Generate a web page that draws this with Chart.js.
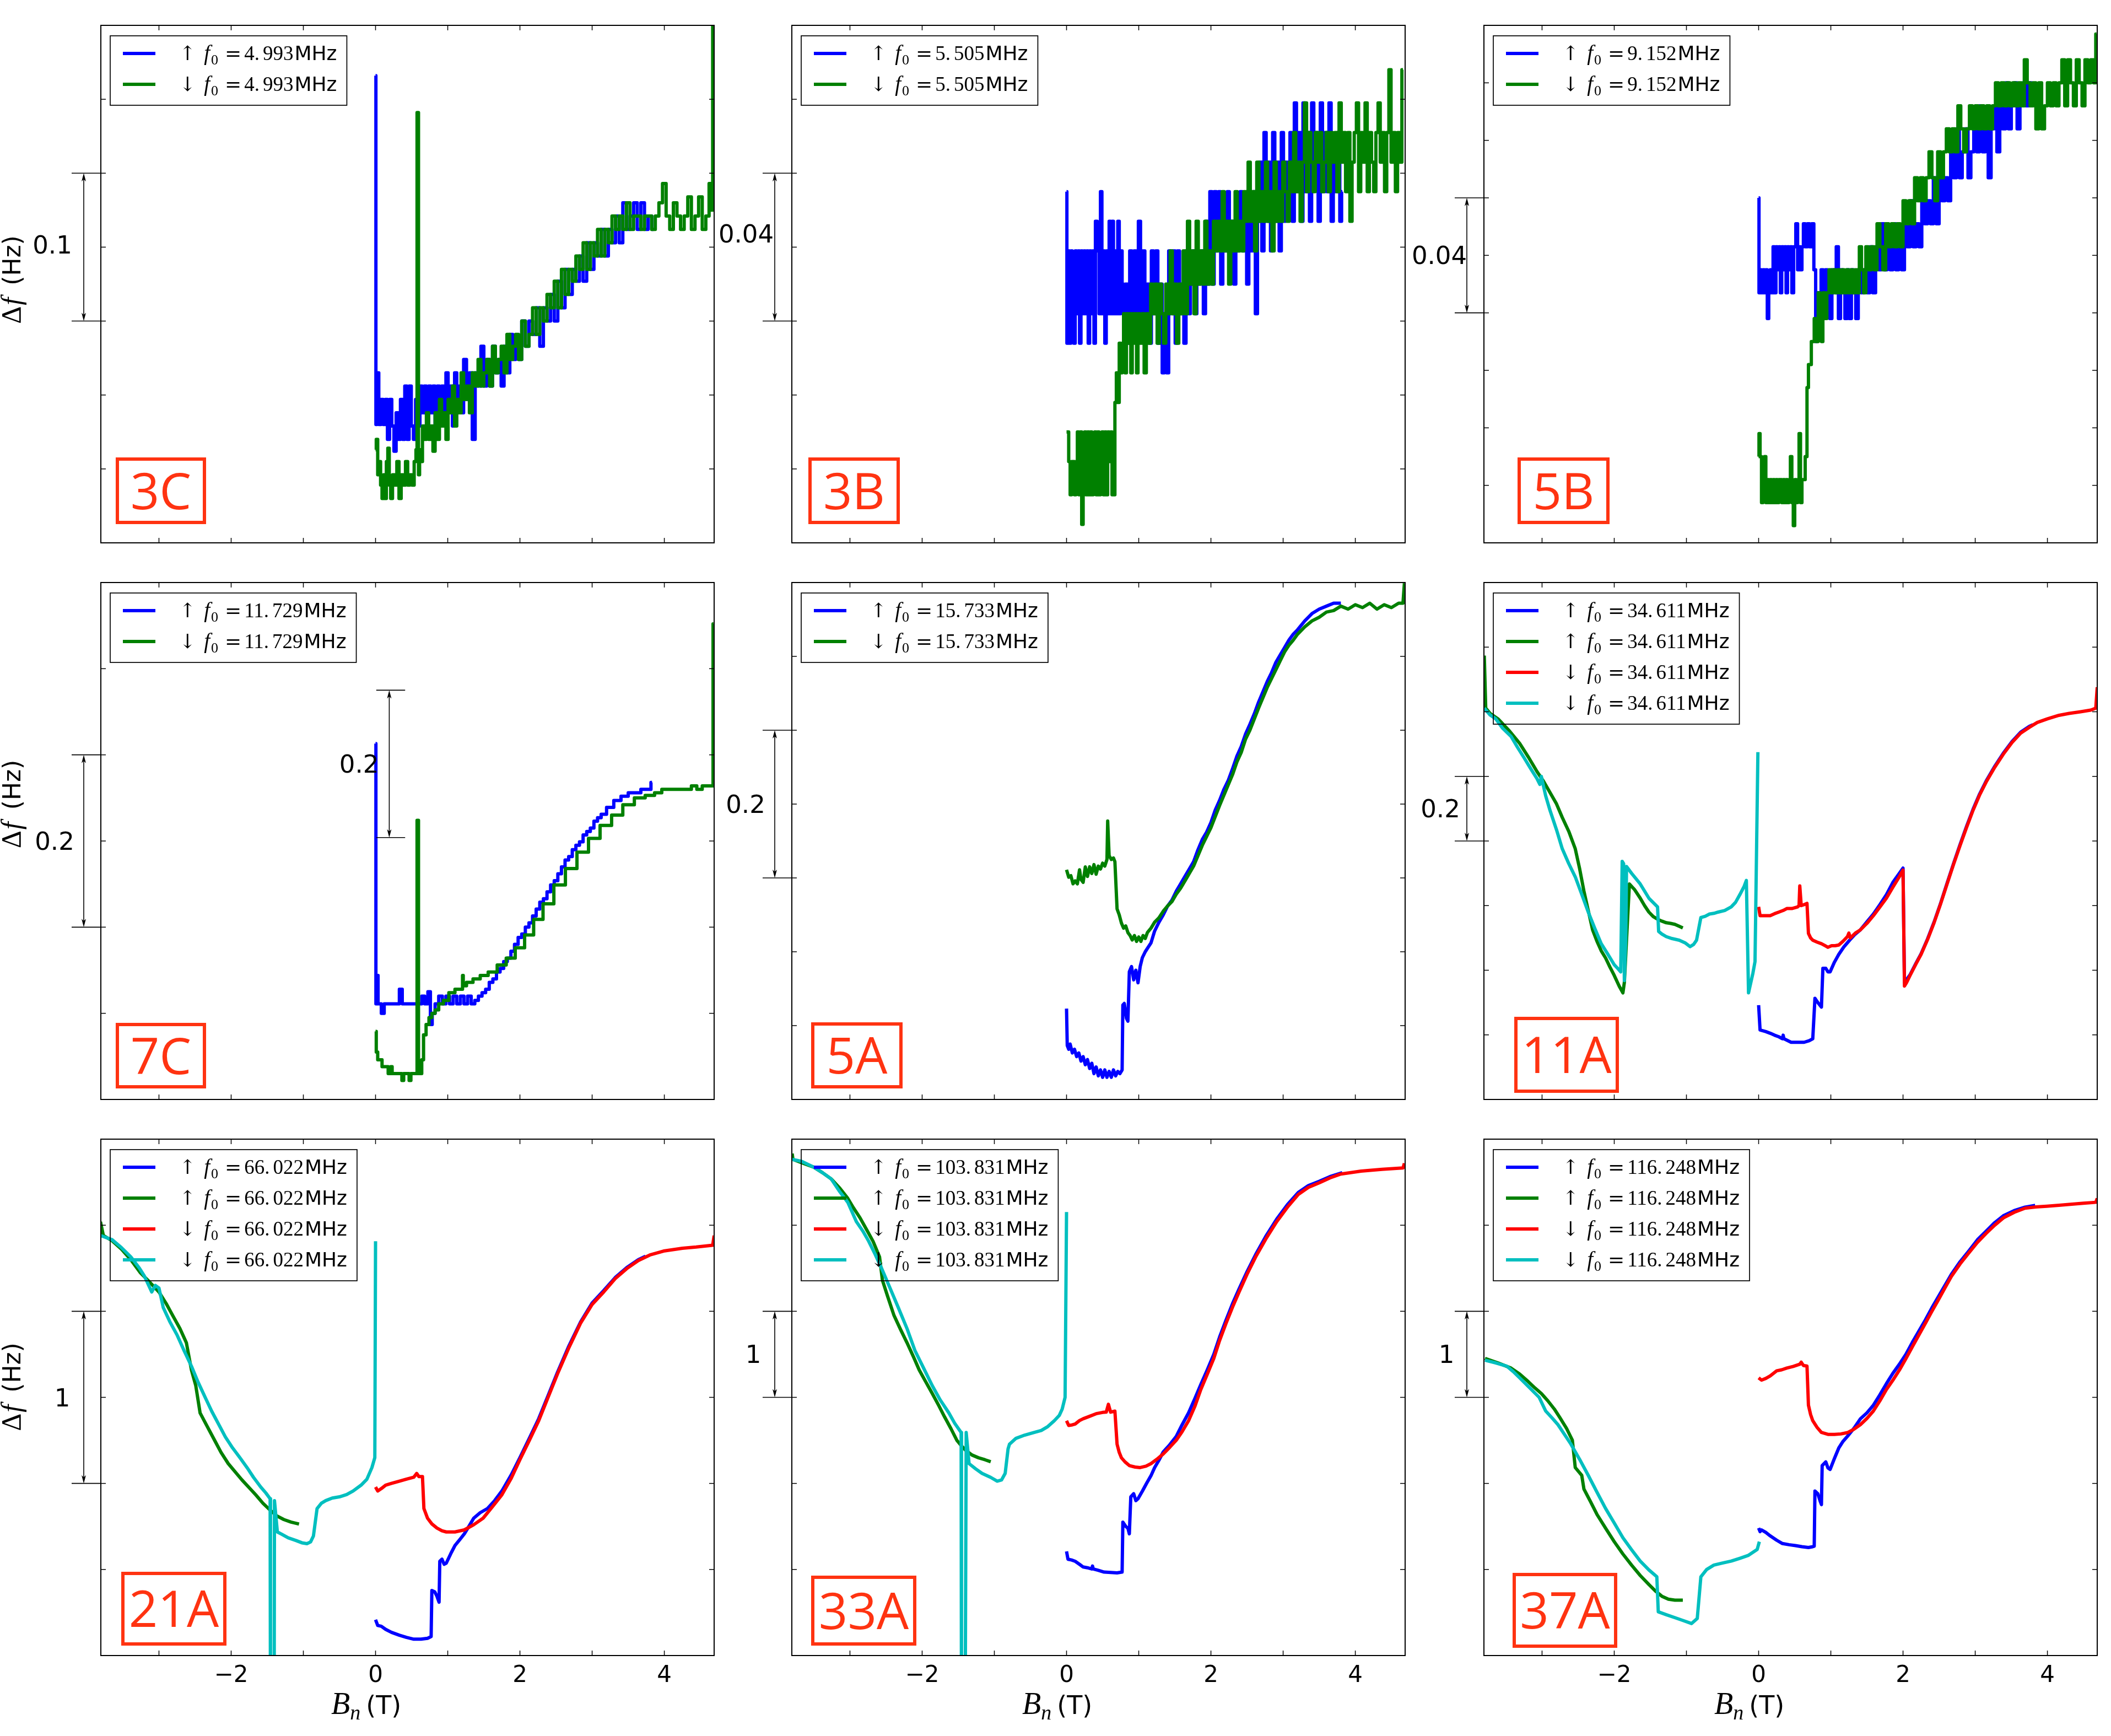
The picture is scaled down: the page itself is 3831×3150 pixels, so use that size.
<!DOCTYPE html>
<html>
<head>
<meta charset="utf-8">
<script src="https://cdn.jsdelivr.net/npm/chart.js@4.4.0/dist/chart.umd.min.js"></script>
<style>
  html, body { margin: 0; padding: 0; background: #fff; }
  #wrap { position: relative; width: 3831px; height: 3150px; overflow: hidden; background: #fff; }
  #wrap canvas { position: absolute; }
</style>
</head>
<body>
<div id="wrap"></div>
<script>
// x axis (field B_n in T), shared by all nine panels
const xTicks = [-3, -2, -1, 0, 1, 2, 3, 4];
const xTickLabels = ['', '−2', '', '0', '', '2', '', '4'];

// y ticks (Hz above an arbitrary offset), one list per panel
const yTicks3C = [0.05, 0.10, 0.15, 0.20, 0.25, 0.30];
const yTicks3B = [0.02, 0.04, 0.06, 0.08, 0.10, 0.12];
const yTicks5B = [0.02, 0.04, 0.06, 0.08, 0.10, 0.12, 0.14, 0.16];
const yTicks7C = [0.1, 0.2, 0.3, 0.4, 0.5];
const yTicks5A = [0.1, 0.2, 0.3, 0.4, 0.5, 0.6];
const yTicks11A = [0.2, 0.4, 0.6, 0.8, 1.0, 1.2, 1.4];
const yTicks21A = [0.5, 1.0, 1.5, 2.0, 2.5];
const yTicks33A = [1, 2, 3, 4, 5];
const yTicks37A = [1, 2, 3, 4, 5];

// ---- 3C, f0 = 4.993 MHz : [B, df] ----
const up3C = [[0,0.316],[0.01,0.080],[0.03,0.115],[0.06,0.080],[0.09,0.097],[0.12,0.080],[0.15,0.097],[0.18,0.070],[0.21,0.097],[0.24,0.079],[0.27,0.062],[0.30,0.088],[0.33,0.070],[0.36,0.097],[0.39,0.070],[0.42,0.106],[0.45,0.070],[0.48,0.106],[0.51,0.079],[0.54,0.070],[0.57,0.097],[0.60,0.079],[0.63,0.106],[0.66,0.088],[0.69,0.106],[0.72,0.079],[0.75,0.106],[0.78,0.088],[0.81,0.106],[0.84,0.079],[0.87,0.106],[0.90,0.088],[0.93,0.106],[0.96,0.088],[0.99,0.115],[1.02,0.088],[1.05,0.106],[1.08,0.079],[1.11,0.115],[1.14,0.097],[1.17,0.106],[1.20,0.088],[1.24,0.124],[1.28,0.097],[1.32,0.115],[1.36,0.070],[1.40,0.115],[1.44,0.106],[1.48,0.133],[1.52,0.106],[1.56,0.124],[1.60,0.106],[1.64,0.133],[1.68,0.115],[1.72,0.124],[1.76,0.106],[1.80,0.133],[1.84,0.115],[1.88,0.141],[1.92,0.124],[1.96,0.133],[2.00,0.124],[2.05,0.150],[2.10,0.133],[2.15,0.150],[2.20,0.141],[2.25,0.159],[2.30,0.133],[2.35,0.159],[2.40,0.150],[2.45,0.168],[2.50,0.150],[2.55,0.177],[2.60,0.159],[2.65,0.185],[2.70,0.168],[2.75,0.185],[2.80,0.177],[2.85,0.194],[2.90,0.177],[2.95,0.203],[3.00,0.185],[3.05,0.203],[3.10,0.194],[3.15,0.212],[3.20,0.194],[3.25,0.212],[3.30,0.203],[3.35,0.221],[3.40,0.203],[3.45,0.230],[3.50,0.212],[3.55,0.221],[3.60,0.230],[3.65,0.212],[3.70,0.230],[3.75,0.212],[3.80,0.221],[3.85,0.212]];
const dn3C = [[0,0.063],[0.02,0.070],[0.04,0.046],[0.06,0.055],[0.08,0.039],[0.10,0.030],[0.12,0.046],[0.14,0.030],[0.16,0.055],[0.18,0.064],[0.20,0.039],[0.22,0.030],[0.25,0.046],[0.28,0.039],[0.31,0.055],[0.34,0.030],[0.37,0.046],[0.40,0.039],[0.43,0.055],[0.46,0.039],[0.49,0.046],[0.52,0.039],[0.55,0.055],[0.57,0.063],[0.58,0.291],[0.59,0.291],[0.60,0.046],[0.62,0.063],[0.64,0.055],[0.66,0.079],[0.69,0.070],[0.72,0.088],[0.75,0.070],[0.78,0.079],[0.81,0.062],[0.84,0.088],[0.87,0.070],[0.90,0.097],[0.93,0.079],[0.96,0.088],[0.99,0.070],[1.02,0.097],[1.05,0.088],[1.08,0.106],[1.11,0.079],[1.14,0.097],[1.17,0.088],[1.20,0.115],[1.24,0.097],[1.28,0.106],[1.32,0.088],[1.36,0.115],[1.40,0.106],[1.44,0.124],[1.48,0.106],[1.52,0.115],[1.56,0.124],[1.60,0.106],[1.64,0.133],[1.68,0.115],[1.72,0.124],[1.76,0.133],[1.80,0.115],[1.84,0.141],[1.88,0.124],[1.92,0.133],[1.96,0.141],[2.00,0.124],[2.05,0.150],[2.10,0.133],[2.15,0.141],[2.20,0.159],[2.25,0.141],[2.30,0.159],[2.35,0.150],[2.40,0.168],[2.45,0.159],[2.50,0.177],[2.55,0.159],[2.60,0.185],[2.65,0.168],[2.70,0.185],[2.75,0.177],[2.80,0.194],[2.85,0.185],[2.90,0.203],[2.95,0.185],[3.00,0.203],[3.05,0.194],[3.10,0.212],[3.15,0.194],[3.20,0.212],[3.25,0.203],[3.30,0.221],[3.35,0.212],[3.40,0.221],[3.45,0.212],[3.50,0.230],[3.55,0.212],[3.60,0.221],[3.65,0.221],[3.70,0.212],[3.75,0.221],[3.80,0.221],[3.85,0.212],[3.90,0.221],[3.95,0.230],[4.00,0.243],[4.05,0.221],[4.10,0.212],[4.15,0.230],[4.20,0.221],[4.25,0.212],[4.30,0.221],[4.35,0.234],[4.40,0.212],[4.45,0.221],[4.50,0.234],[4.55,0.212],[4.60,0.221],[4.64,0.243],[4.66,0.225],[4.68,0.350]];

// ---- 3B, f0 = 5.505 MHz ----
const up3B = [[0,0.095],[0.01,0.054],[0.03,0.079],[0.05,0.054],[0.07,0.079],[0.09,0.062],[0.11,0.054],[0.13,0.079],[0.15,0.062],[0.17,0.079],[0.19,0.054],[0.21,0.079],[0.23,0.062],[0.25,0.079],[0.27,0.062],[0.29,0.079],[0.31,0.054],[0.33,0.079],[0.35,0.062],[0.37,0.079],[0.39,0.054],[0.41,0.087],[0.44,0.079],[0.46,0.062],[0.48,0.095],[0.50,0.062],[0.52,0.079],[0.54,0.054],[0.56,0.079],[0.58,0.062],[0.60,0.087],[0.62,0.062],[0.64,0.087],[0.66,0.062],[0.68,0.079],[0.70,0.062],[0.72,0.087],[0.74,0.062],[0.76,0.079],[0.78,0.070],[0.80,0.062],[0.83,0.070],[0.86,0.054],[0.89,0.079],[0.92,0.062],[0.95,0.079],[0.98,0.062],[1.01,0.087],[1.04,0.062],[1.07,0.079],[1.10,0.062],[1.13,0.070],[1.16,0.054],[1.19,0.079],[1.22,0.062],[1.25,0.079],[1.28,0.054],[1.31,0.070],[1.34,0.046],[1.37,0.062],[1.40,0.046],[1.43,0.079],[1.46,0.062],[1.49,0.079],[1.52,0.054],[1.55,0.079],[1.58,0.062],[1.61,0.070],[1.64,0.054],[1.67,0.079],[1.70,0.062],[1.73,0.070],[1.76,0.079],[1.79,0.062],[1.82,0.079],[1.85,0.070],[1.88,0.079],[1.91,0.062],[1.94,0.087],[1.97,0.070],[2.00,0.095],[2.03,0.070],[2.06,0.095],[2.09,0.079],[2.12,0.095],[2.15,0.070],[2.18,0.087],[2.21,0.079],[2.24,0.095],[2.27,0.079],[2.30,0.087],[2.33,0.070],[2.36,0.087],[2.39,0.079],[2.42,0.095],[2.45,0.079],[2.48,0.087],[2.51,0.070],[2.54,0.087],[2.57,0.079],[2.60,0.095],[2.63,0.062],[2.66,0.087],[2.69,0.103],[2.72,0.079],[2.75,0.111],[2.78,0.087],[2.81,0.103],[2.84,0.079],[2.87,0.111],[2.90,0.087],[2.93,0.103],[2.96,0.079],[2.99,0.111],[3.02,0.087],[3.05,0.103],[3.08,0.095],[3.11,0.111],[3.14,0.087],[3.17,0.119],[3.20,0.095],[3.23,0.111],[3.26,0.087],[3.29,0.119],[3.32,0.095],[3.35,0.111],[3.38,0.087],[3.41,0.119],[3.44,0.103],[3.47,0.111],[3.50,0.087],[3.53,0.119],[3.56,0.095],[3.59,0.111],[3.62,0.095],[3.65,0.119],[3.68,0.087],[3.71,0.103],[3.74,0.095],[3.77,0.111],[3.80,0.087],[3.82,0.095]];
const dn3B = [[0,0.030],[0.02,0.030],[0.04,0.022],[0.06,0.013],[0.08,0.022],[0.10,0.022],[0.12,0.013],[0.14,0.022],[0.16,0.030],[0.18,0.013],[0.20,0.030],[0.22,0.005],[0.24,0.022],[0.26,0.030],[0.28,0.013],[0.30,0.030],[0.32,0.013],[0.34,0.030],[0.36,0.013],[0.38,0.022],[0.40,0.030],[0.42,0.013],[0.44,0.030],[0.46,0.013],[0.48,0.022],[0.50,0.030],[0.52,0.013],[0.54,0.030],[0.56,0.013],[0.58,0.030],[0.60,0.022],[0.62,0.030],[0.64,0.013],[0.66,0.013],[0.68,0.038],[0.70,0.046],[0.72,0.038],[0.74,0.054],[0.76,0.046],[0.78,0.054],[0.80,0.062],[0.82,0.046],[0.84,0.062],[0.86,0.054],[0.88,0.062],[0.90,0.046],[0.92,0.062],[0.94,0.054],[0.96,0.062],[0.98,0.046],[1.00,0.062],[1.03,0.054],[1.06,0.062],[1.09,0.046],[1.12,0.062],[1.15,0.054],[1.18,0.070],[1.21,0.062],[1.24,0.070],[1.27,0.054],[1.30,0.070],[1.33,0.062],[1.36,0.054],[1.39,0.070],[1.42,0.062],[1.45,0.079],[1.48,0.062],[1.51,0.070],[1.54,0.054],[1.57,0.070],[1.60,0.062],[1.63,0.079],[1.66,0.062],[1.69,0.087],[1.72,0.070],[1.75,0.079],[1.78,0.062],[1.81,0.087],[1.84,0.070],[1.87,0.079],[1.90,0.070],[1.93,0.087],[1.96,0.070],[1.99,0.079],[2.02,0.070],[2.05,0.087],[2.08,0.079],[2.11,0.087],[2.14,0.079],[2.17,0.095],[2.20,0.079],[2.23,0.087],[2.26,0.070],[2.29,0.087],[2.32,0.079],[2.35,0.095],[2.38,0.079],[2.41,0.087],[2.44,0.079],[2.47,0.095],[2.50,0.087],[2.53,0.103],[2.56,0.087],[2.59,0.095],[2.62,0.079],[2.65,0.103],[2.68,0.087],[2.71,0.095],[2.74,0.087],[2.77,0.103],[2.80,0.087],[2.83,0.095],[2.86,0.079],[2.89,0.103],[2.92,0.087],[2.95,0.095],[2.98,0.087],[3.01,0.103],[3.04,0.095],[3.07,0.087],[3.10,0.103],[3.13,0.095],[3.16,0.111],[3.19,0.095],[3.22,0.103],[3.25,0.087],[3.28,0.103],[3.31,0.119],[3.34,0.095],[3.37,0.111],[3.40,0.103],[3.43,0.095],[3.46,0.111],[3.49,0.103],[3.52,0.111],[3.55,0.095],[3.58,0.103],[3.61,0.111],[3.64,0.095],[3.67,0.111],[3.70,0.103],[3.73,0.111],[3.76,0.095],[3.79,0.119],[3.82,0.103],[3.85,0.111],[3.88,0.095],[3.91,0.111],[3.94,0.087],[3.97,0.103],[4.00,0.111],[4.03,0.119],[4.06,0.095],[4.09,0.111],[4.12,0.103],[4.15,0.119],[4.18,0.095],[4.21,0.111],[4.24,0.103],[4.27,0.095],[4.30,0.111],[4.33,0.119],[4.36,0.103],[4.39,0.111],[4.42,0.095],[4.45,0.111],[4.48,0.128],[4.51,0.103],[4.54,0.111],[4.57,0.095],[4.60,0.111],[4.63,0.103],[4.66,0.128]];

// ---- 5B, f0 = 9.152 MHz ----
const up5B = [[0,0.120],[0.01,0.087],[0.03,0.095],[0.05,0.087],[0.07,0.095],[0.09,0.087],[0.11,0.095],[0.13,0.078],[0.15,0.087],[0.17,0.095],[0.19,0.087],[0.21,0.103],[0.23,0.087],[0.25,0.103],[0.27,0.095],[0.29,0.103],[0.31,0.087],[0.33,0.103],[0.35,0.095],[0.37,0.103],[0.39,0.087],[0.41,0.103],[0.43,0.095],[0.45,0.103],[0.47,0.087],[0.50,0.103],[0.53,0.111],[0.55,0.095],[0.57,0.103],[0.59,0.095],[0.61,0.103],[0.63,0.111],[0.66,0.103],[0.69,0.111],[0.72,0.103],[0.75,0.111],[0.78,0.095],[0.80,0.070],[0.82,0.087],[0.85,0.078],[0.88,0.095],[0.91,0.078],[0.94,0.095],[0.97,0.087],[1.00,0.078],[1.03,0.095],[1.06,0.087],[1.09,0.103],[1.12,0.078],[1.15,0.095],[1.18,0.087],[1.21,0.078],[1.24,0.095],[1.27,0.078],[1.30,0.095],[1.33,0.087],[1.36,0.078],[1.40,0.095],[1.44,0.087],[1.48,0.095],[1.52,0.087],[1.56,0.103],[1.60,0.087],[1.64,0.103],[1.68,0.095],[1.72,0.111],[1.76,0.095],[1.80,0.103],[1.84,0.095],[1.88,0.111],[1.92,0.095],[1.96,0.103],[2.00,0.095],[2.04,0.111],[2.08,0.103],[2.12,0.119],[2.16,0.103],[2.20,0.111],[2.24,0.103],[2.28,0.119],[2.32,0.111],[2.36,0.119],[2.40,0.111],[2.44,0.127],[2.48,0.111],[2.52,0.127],[2.56,0.119],[2.60,0.127],[2.64,0.119],[2.68,0.136],[2.72,0.127],[2.76,0.144],[2.80,0.127],[2.84,0.136],[2.88,0.144],[2.92,0.127],[2.96,0.136],[3.00,0.144],[3.04,0.136],[3.08,0.152],[3.12,0.136],[3.16,0.144],[3.20,0.127],[3.24,0.144],[3.28,0.152],[3.32,0.136],[3.36,0.152],[3.40,0.144],[3.44,0.160],[3.48,0.144],[3.52,0.152],[3.56,0.160],[3.60,0.144],[3.64,0.152],[3.68,0.160],[3.72,0.152],[3.76,0.160],[3.80,0.152]];
const dn5B = [[0,0.030],[0.01,0.038],[0.03,0.030],[0.05,0.014],[0.07,0.022],[0.09,0.030],[0.11,0.014],[0.13,0.022],[0.15,0.014],[0.17,0.022],[0.19,0.014],[0.21,0.022],[0.23,0.014],[0.25,0.022],[0.27,0.014],[0.29,0.022],[0.31,0.022],[0.33,0.014],[0.35,0.022],[0.37,0.014],[0.39,0.022],[0.41,0.014],[0.43,0.022],[0.45,0.030],[0.47,0.014],[0.49,0.006],[0.51,0.022],[0.53,0.014],[0.55,0.022],[0.57,0.038],[0.59,0.014],[0.61,0.022],[0.63,0.022],[0.66,0.030],[0.68,0.054],[0.70,0.062],[0.72,0.062],[0.74,0.070],[0.76,0.070],[0.78,0.078],[0.81,0.070],[0.84,0.087],[0.86,0.078],[0.88,0.070],[0.90,0.087],[0.93,0.078],[0.96,0.087],[0.99,0.095],[1.02,0.087],[1.05,0.095],[1.08,0.087],[1.11,0.095],[1.14,0.087],[1.17,0.095],[1.20,0.087],[1.23,0.095],[1.26,0.087],[1.29,0.095],[1.32,0.087],[1.35,0.095],[1.38,0.087],[1.41,0.103],[1.44,0.095],[1.47,0.087],[1.50,0.103],[1.54,0.095],[1.58,0.103],[1.62,0.095],[1.66,0.111],[1.70,0.103],[1.74,0.095],[1.78,0.111],[1.82,0.103],[1.86,0.111],[1.90,0.103],[1.94,0.111],[1.98,0.103],[2.02,0.119],[2.06,0.111],[2.10,0.119],[2.14,0.111],[2.18,0.127],[2.22,0.119],[2.26,0.127],[2.30,0.119],[2.34,0.127],[2.38,0.136],[2.42,0.127],[2.46,0.119],[2.50,0.136],[2.54,0.127],[2.58,0.136],[2.62,0.144],[2.66,0.136],[2.70,0.144],[2.74,0.136],[2.78,0.152],[2.82,0.144],[2.86,0.136],[2.90,0.144],[2.94,0.152],[2.98,0.144],[3.02,0.152],[3.06,0.144],[3.10,0.152],[3.14,0.144],[3.18,0.152],[3.22,0.144],[3.26,0.152],[3.30,0.160],[3.34,0.152],[3.38,0.160],[3.42,0.152],[3.46,0.160],[3.50,0.152],[3.54,0.160],[3.58,0.152],[3.62,0.160],[3.66,0.152],[3.70,0.168],[3.74,0.160],[3.78,0.152],[3.82,0.160],[3.86,0.144],[3.90,0.160],[3.94,0.144],[3.98,0.152],[4.02,0.160],[4.06,0.152],[4.10,0.160],[4.14,0.152],[4.18,0.160],[4.22,0.168],[4.26,0.152],[4.30,0.168],[4.34,0.160],[4.38,0.152],[4.42,0.168],[4.46,0.160],[4.50,0.152],[4.54,0.168],[4.58,0.160],[4.62,0.168],[4.66,0.160],[4.68,0.177]];

// ---- 7C, f0 = 11.729 MHz ----
const up7C = [[0,0.413],[0.01,0.111],[0.02,0.111],[0.03,0.144],[0.04,0.111],[0.06,0.111],[0.10,0.100],[0.14,0.111],[0.20,0.111],[0.30,0.111],[0.36,0.128],[0.38,0.111],[0.50,0.111],[0.62,0.111],[0.66,0.120],[0.70,0.111],[0.75,0.125],[0.77,0.087],[0.80,0.100],[0.85,0.111],[0.90,0.120],[0.95,0.111],[1.00,0.120],[1.05,0.111],[1.10,0.120],[1.15,0.111],[1.20,0.120],[1.25,0.111],[1.30,0.120],[1.35,0.111],[1.40,0.115],[1.45,0.120],[1.50,0.124],[1.55,0.128],[1.60,0.136],[1.65,0.140],[1.70,0.148],[1.75,0.152],[1.80,0.160],[1.85,0.164],[1.90,0.172],[1.95,0.180],[2.00,0.188],[2.05,0.192],[2.10,0.200],[2.15,0.205],[2.20,0.213],[2.25,0.221],[2.30,0.229],[2.35,0.233],[2.40,0.241],[2.45,0.249],[2.50,0.254],[2.55,0.262],[2.60,0.270],[2.65,0.278],[2.70,0.282],[2.75,0.290],[2.80,0.295],[2.85,0.299],[2.90,0.307],[2.95,0.311],[3.00,0.315],[3.05,0.323],[3.10,0.327],[3.15,0.331],[3.25,0.339],[3.35,0.347],[3.45,0.352],[3.55,0.356],[3.65,0.356],[3.70,0.360],[3.80,0.360],[3.83,0.368]];
const dn7C = [[0,0.079],[0.02,0.055],[0.04,0.046],[0.08,0.046],[0.10,0.038],[0.15,0.038],[0.20,0.030],[0.22,0.038],[0.24,0.030],[0.35,0.030],[0.38,0.022],[0.40,0.030],[0.45,0.030],[0.48,0.022],[0.50,0.030],[0.57,0.030],[0.58,0.324],[0.59,0.324],[0.60,0.030],[0.63,0.030],[0.65,0.046],[0.68,0.075],[0.72,0.087],[0.76,0.095],[0.80,0.100],[0.85,0.104],[0.90,0.111],[0.98,0.115],[1.05,0.124],[1.15,0.128],[1.20,0.128],[1.21,0.144],[1.22,0.132],[1.30,0.136],[1.40,0.140],[1.50,0.144],[1.62,0.148],[1.75,0.156],[1.87,0.164],[2.00,0.176],[2.13,0.191],[2.25,0.209],[2.39,0.227],[2.55,0.249],[2.71,0.268],[2.87,0.287],[3.03,0.303],[3.19,0.318],[3.35,0.330],[3.50,0.342],[3.67,0.350],[3.80,0.353],[3.93,0.356],[4.00,0.360],[4.35,0.360],[4.40,0.364],[4.50,0.360],[4.55,0.364],[4.67,0.364],[4.68,0.552]];

// ---- 5A, f0 = 15.733 MHz ----
const up5A = [[0,0.123],[0.01,0.073],[0.03,0.068],[0.05,0.075],[0.08,0.063],[0.11,0.068],[0.14,0.058],[0.17,0.063],[0.20,0.052],[0.23,0.058],[0.26,0.047],[0.29,0.054],[0.32,0.042],[0.35,0.049],[0.38,0.035],[0.41,0.044],[0.44,0.032],[0.47,0.040],[0.50,0.030],[0.53,0.040],[0.56,0.030],[0.59,0.038],[0.62,0.030],[0.65,0.040],[0.68,0.032],[0.71,0.038],[0.74,0.035],[0.77,0.040],[0.78,0.128],[0.80,0.130],[0.83,0.110],[0.85,0.106],[0.87,0.173],[0.90,0.180],[0.93,0.162],[0.96,0.175],[0.99,0.158],[1.02,0.180],[1.05,0.192],[1.09,0.200],[1.13,0.206],[1.17,0.212],[1.22,0.228],[1.28,0.240],[1.34,0.250],[1.40,0.262],[1.46,0.270],[1.52,0.282],[1.58,0.292],[1.64,0.302],[1.70,0.312],[1.76,0.322],[1.82,0.338],[1.88,0.352],[1.94,0.362],[2.00,0.375],[2.06,0.392],[2.12,0.405],[2.18,0.420],[2.24,0.432],[2.30,0.448],[2.36,0.465],[2.42,0.478],[2.48,0.495],[2.54,0.508],[2.60,0.522],[2.66,0.538],[2.72,0.552],[2.78,0.566],[2.84,0.578],[2.90,0.592],[2.96,0.602],[3.02,0.612],[3.08,0.622],[3.14,0.630],[3.20,0.636],[3.30,0.648],[3.40,0.658],[3.50,0.664],[3.60,0.668],[3.70,0.672],[3.80,0.672]];
const dn5A = [[0,0.311],[0.03,0.301],[0.06,0.303],[0.09,0.292],[0.12,0.296],[0.15,0.292],[0.18,0.311],[0.20,0.298],[0.23,0.294],[0.26,0.315],[0.29,0.302],[0.32,0.315],[0.35,0.306],[0.38,0.318],[0.41,0.305],[0.44,0.316],[0.47,0.312],[0.50,0.320],[0.53,0.316],[0.56,0.325],[0.57,0.377],[0.59,0.330],[0.62,0.325],[0.65,0.327],[0.67,0.322],[0.70,0.258],[0.73,0.250],[0.76,0.239],[0.79,0.232],[0.82,0.235],[0.85,0.226],[0.88,0.222],[0.91,0.216],[0.94,0.222],[0.97,0.214],[1.00,0.220],[1.03,0.214],[1.06,0.222],[1.09,0.218],[1.12,0.226],[1.17,0.232],[1.22,0.240],[1.28,0.246],[1.34,0.255],[1.40,0.262],[1.46,0.268],[1.52,0.278],[1.58,0.286],[1.64,0.296],[1.70,0.306],[1.76,0.316],[1.82,0.330],[1.88,0.344],[1.94,0.356],[2.00,0.368],[2.06,0.383],[2.12,0.398],[2.18,0.412],[2.24,0.426],[2.30,0.440],[2.36,0.457],[2.42,0.470],[2.48,0.488],[2.54,0.500],[2.60,0.515],[2.66,0.530],[2.72,0.544],[2.78,0.558],[2.84,0.570],[2.90,0.582],[2.96,0.594],[3.02,0.606],[3.08,0.615],[3.14,0.622],[3.20,0.630],[3.30,0.640],[3.40,0.648],[3.50,0.653],[3.60,0.660],[3.70,0.662],[3.80,0.668],[3.90,0.664],[4.00,0.670],[4.10,0.666],[4.20,0.672],[4.30,0.664],[4.40,0.670],[4.50,0.666],[4.60,0.672],[4.66,0.672],[4.68,0.699]];

// ---- 11A, f0 = 34.611 MHz ----
const up11A = [[0,0.292],[0.02,0.215],[0.10,0.210],[0.16,0.205],[0.22,0.199],[0.28,0.194],[0.33,0.188],[0.34,0.199],[0.35,0.188],[0.45,0.177],[0.55,0.177],[0.63,0.177],[0.70,0.182],[0.75,0.188],[0.78,0.313],[0.82,0.300],[0.87,0.286],[0.89,0.406],[0.93,0.406],[0.96,0.395],[0.99,0.395],[1.05,0.425],[1.11,0.449],[1.18,0.472],[1.26,0.493],[1.33,0.510],[1.41,0.525],[1.50,0.550],[1.59,0.574],[1.68,0.603],[1.77,0.634],[1.86,0.672],[1.95,0.700],[2.00,0.716],[2.02,0.362],[2.10,0.387],[2.18,0.422],[2.25,0.451],[2.34,0.497],[2.43,0.549],[2.52,0.607],[2.61,0.669],[2.70,0.730],[2.79,0.789],[2.88,0.845],[2.97,0.898],[3.06,0.945],[3.15,0.985],[3.27,1.031],[3.39,1.072],[3.51,1.108],[3.63,1.137],[3.75,1.155],[3.80,1.160]];
const upNeg11A = [[-3.80,1.374],[-3.78,1.211],[-3.72,1.195],[-3.61,1.178],[-3.45,1.140],[-3.31,1.102],[-3.19,1.060],[-3.07,1.015],[-2.98,0.985],[-2.89,0.950],[-2.80,0.915],[-2.72,0.873],[-2.63,0.830],[-2.54,0.776],[-2.48,0.715],[-2.42,0.645],[-2.36,0.585],[-2.30,0.525],[-2.24,0.490],[-2.18,0.460],[-2.12,0.438],[-2.06,0.410],[-2.00,0.384],[-1.93,0.350],[-1.88,0.330],[-1.86,0.362],[-1.79,0.667],[-1.72,0.650],[-1.64,0.623],[-1.58,0.600],[-1.52,0.580],[-1.46,0.566],[-1.40,0.558],[-1.34,0.552],[-1.28,0.547],[-1.22,0.545],[-1.16,0.542],[-1.10,0.536],[-1.05,0.531]];
const dn11A = [[0,0.596],[0.02,0.569],[0.10,0.569],[0.16,0.569],[0.22,0.575],[0.28,0.580],[0.34,0.585],[0.39,0.591],[0.46,0.591],[0.54,0.596],[0.56,0.600],[0.57,0.661],[0.59,0.600],[0.63,0.603],[0.67,0.607],[0.69,0.514],[0.72,0.500],[0.75,0.493],[0.81,0.487],[0.87,0.482],[0.92,0.476],[0.96,0.471],[1.01,0.476],[1.06,0.476],[1.11,0.478],[1.17,0.490],[1.23,0.504],[1.25,0.515],[1.27,0.500],[1.34,0.515],[1.41,0.525],[1.50,0.545],[1.59,0.569],[1.68,0.596],[1.77,0.623],[1.86,0.657],[1.95,0.690],[2.00,0.710],[2.02,0.351],[2.05,0.362],[2.10,0.385],[2.18,0.420],[2.25,0.449],[2.34,0.495],[2.43,0.547],[2.52,0.605],[2.61,0.667],[2.70,0.728],[2.79,0.786],[2.88,0.842],[2.97,0.895],[3.06,0.942],[3.15,0.982],[3.27,1.028],[3.39,1.069],[3.51,1.105],[3.63,1.134],[3.75,1.152],[3.86,1.167],[4.00,1.178],[4.16,1.189],[4.30,1.195],[4.46,1.200],[4.60,1.205],[4.67,1.211],[4.69,1.276]];
const dnNeg11A = [[-3.80,1.211],[-3.72,1.190],[-3.64,1.178],[-3.55,1.150],[-3.43,1.124],[-3.34,1.090],[-3.25,1.058],[-3.16,1.025],[-3.07,0.993],[-3.03,0.975],[-3.01,1.000],[-2.95,0.940],[-2.89,0.895],[-2.80,0.835],[-2.72,0.776],[-2.63,0.730],[-2.54,0.689],[-2.45,0.635],[-2.36,0.580],[-2.27,0.530],[-2.18,0.482],[-2.09,0.450],[-2.00,0.417],[-1.95,0.405],[-1.91,0.395],[-1.89,0.737],[-1.87,0.730],[-1.86,0.368],[-1.84,0.500],[-1.83,0.721],[-1.76,0.700],[-1.64,0.667],[-1.52,0.623],[-1.44,0.605],[-1.40,0.596],[-1.385,0.520],[-1.34,0.512],[-1.28,0.504],[-1.20,0.498],[-1.10,0.493],[-1.02,0.485],[-0.95,0.473],[-0.90,0.480],[-0.86,0.493],[-0.82,0.540],[-0.80,0.563],[-0.74,0.567],[-0.68,0.574],[-0.62,0.576],[-0.56,0.580],[-0.47,0.585],[-0.38,0.596],[-0.32,0.610],[-0.26,0.634],[-0.20,0.660],[-0.17,0.678],[-0.14,0.330],[-0.08,0.390],[-0.05,0.427],[-0.01,1.075]];

// ---- 21A, f0 = 66.022 MHz ----
const up21A = [[0,0.208],[0.03,0.175],[0.08,0.170],[0.14,0.152],[0.22,0.135],[0.33,0.118],[0.43,0.105],[0.53,0.095],[0.63,0.095],[0.72,0.100],[0.77,0.110],[0.78,0.378],[0.82,0.370],[0.85,0.345],[0.88,0.310],[0.89,0.548],[0.92,0.560],[0.95,0.530],[0.98,0.537],[1.04,0.590],[1.10,0.639],[1.17,0.675],[1.23,0.707],[1.30,0.755],[1.36,0.798],[1.45,0.830],[1.55,0.854],[1.65,0.900],[1.75,0.956],[1.88,1.050],[2.00,1.150],[2.13,1.262],[2.26,1.376],[2.39,1.510],[2.52,1.645],[2.68,1.800],[2.84,1.938],[3.00,2.048],[3.16,2.120],[3.32,2.196],[3.48,2.254],[3.64,2.300],[3.74,2.320]];
const upNeg21A = [[-3.81,2.520],[-3.77,2.440],[-3.65,2.410],[-3.52,2.361],[-3.39,2.300],[-3.26,2.225],[-3.13,2.170],[-3.00,2.112],[-2.90,2.045],[-2.81,1.976],[-2.71,1.900],[-2.62,1.817],[-2.55,1.659],[-2.49,1.568],[-2.43,1.409],[-2.33,1.330],[-2.23,1.251],[-2.14,1.180],[-2.04,1.115],[-1.94,1.065],[-1.85,1.020],[-1.75,0.975],[-1.66,0.934],[-1.56,0.885],[-1.46,0.845],[-1.37,0.812],[-1.27,0.790],[-1.17,0.775],[-1.06,0.764]];
const dn21A = [[0,0.979],[0.03,0.956],[0.08,0.970],[0.14,0.990],[0.22,1.000],[0.33,1.013],[0.43,1.025],[0.53,1.036],[0.57,1.058],[0.60,1.040],[0.65,1.040],[0.67,0.854],[0.72,0.798],[0.78,0.765],[0.85,0.741],[0.92,0.725],[0.98,0.718],[1.10,0.718],[1.23,0.730],[1.36,0.760],[1.49,0.798],[1.62,0.865],[1.75,0.934],[1.88,1.030],[2.00,1.138],[2.13,1.250],[2.26,1.364],[2.39,1.500],[2.52,1.636],[2.68,1.790],[2.84,1.931],[3.00,2.040],[3.16,2.112],[3.32,2.190],[3.48,2.248],[3.64,2.295],[3.80,2.327],[3.99,2.350],[4.25,2.366],[4.44,2.373],[4.67,2.384],[4.69,2.440]];
const dnNeg21A = [[-3.81,2.440],[-3.65,2.416],[-3.52,2.370],[-3.39,2.316],[-3.27,2.250],[-3.20,2.203],[-3.10,2.112],[-3.05,2.150],[-3.00,2.135],[-2.94,2.021],[-2.85,1.940],[-2.75,1.863],[-2.65,1.770],[-2.55,1.681],[-2.46,1.590],[-2.36,1.500],[-2.27,1.420],[-2.17,1.341],[-2.08,1.270],[-1.98,1.206],[-1.88,1.150],[-1.78,1.092],[-1.69,1.035],[-1.59,0.979],[-1.52,0.945],[-1.46,0.911],[-1.455,-0.5],[-1.405,-0.5],[-1.40,0.900],[-1.36,0.718],[-1.30,0.705],[-1.21,0.684],[-1.10,0.668],[-1.02,0.655],[-0.95,0.650],[-0.90,0.660],[-0.86,0.695],[-0.81,0.854],[-0.75,0.885],[-0.69,0.900],[-0.60,0.915],[-0.50,0.922],[-0.40,0.935],[-0.31,0.956],[-0.20,0.990],[-0.12,1.024],[-0.05,1.092],[-0.01,1.150],[0,2.407]];

// ---- 33A, f0 = 103.831 MHz ----
const up33A = [[0,1.210],[0.02,1.119],[0.07,1.110],[0.12,1.095],[0.18,1.060],[0.23,1.029],[0.29,1.020],[0.35,1.006],[0.36,1.040],[0.37,1.006],[0.44,0.990],[0.52,0.970],[0.61,0.965],[0.70,0.961],[0.77,0.970],[0.78,1.550],[0.82,1.500],[0.85,1.480],[0.87,1.414],[0.89,1.844],[0.93,1.880],[0.96,1.800],[0.99,1.822],[1.05,1.910],[1.11,2.003],[1.17,2.090],[1.22,2.184],[1.28,2.270],[1.34,2.366],[1.43,2.450],[1.52,2.547],[1.60,2.680],[1.69,2.819],[1.78,2.990],[1.86,3.150],[1.95,3.320],[2.04,3.500],[2.12,3.700],[2.21,3.900],[2.30,4.090],[2.39,4.260],[2.50,4.460],[2.62,4.660],[2.76,4.870],[2.91,5.070],[3.06,5.240],[3.21,5.380],[3.35,5.460],[3.50,5.510],[3.65,5.565],[3.82,5.610]];
const upNeg33A = [[-3.80,5.833],[-3.79,5.765],[-3.65,5.720],[-3.50,5.674],[-3.38,5.610],[-3.26,5.538],[-3.14,5.430],[-3.03,5.312],[-2.95,5.200],[-2.86,5.085],[-2.77,4.950],[-2.68,4.813],[-2.59,4.632],[-2.55,4.360],[-2.48,4.178],[-2.39,3.952],[-2.30,3.790],[-2.21,3.635],[-2.12,3.470],[-2.04,3.317],[-1.95,3.180],[-1.86,3.045],[-1.77,2.905],[-1.69,2.774],[-1.60,2.635],[-1.52,2.502],[-1.46,2.440],[-1.40,2.388],[-1.31,2.330],[-1.22,2.298],[-1.13,2.275],[-1.05,2.252]];
const dn33A = [[0,2.728],[0.03,2.674],[0.08,2.680],[0.12,2.690],[0.18,2.730],[0.23,2.751],[0.32,2.780],[0.41,2.810],[0.50,2.825],[0.55,2.828],[0.58,2.919],[0.61,2.828],[0.67,2.840],[0.70,2.456],[0.73,2.360],[0.76,2.298],[0.81,2.250],[0.87,2.207],[0.95,2.190],[1.02,2.184],[1.10,2.200],[1.17,2.230],[1.25,2.280],[1.34,2.343],[1.43,2.420],[1.52,2.502],[1.60,2.600],[1.69,2.728],[1.78,2.900],[1.86,3.091],[1.95,3.270],[2.04,3.453],[2.12,3.660],[2.21,3.861],[2.30,4.050],[2.39,4.224],[2.50,4.430],[2.62,4.632],[2.76,4.840],[2.91,5.040],[3.06,5.210],[3.21,5.357],[3.35,5.440],[3.50,5.493],[3.65,5.550],[3.79,5.593],[4.08,5.629],[4.37,5.650],[4.66,5.665],[4.68,5.719]];
const dnNeg33A = [[-3.80,5.765],[-3.67,5.742],[-3.50,5.674],[-3.38,5.610],[-3.26,5.538],[-3.15,5.400],[-3.03,5.266],[-2.91,5.040],[-2.82,4.930],[-2.74,4.813],[-2.65,4.660],[-2.56,4.496],[-2.45,4.280],[-2.33,4.042],[-2.21,3.800],[-2.10,3.544],[-1.98,3.340],[-1.86,3.136],[-1.75,2.970],[-1.63,2.819],[-1.55,2.700],[-1.46,2.592],[-1.455,-1],[-1.405,-1],[-1.39,2.592],[-1.35,2.230],[-1.26,2.170],[-1.17,2.116],[-1.05,2.070],[-0.96,2.026],[-0.90,2.040],[-0.85,2.116],[-0.81,2.400],[-0.79,2.456],[-0.70,2.524],[-0.58,2.561],[-0.46,2.590],[-0.35,2.615],[-0.26,2.660],[-0.17,2.728],[-0.10,2.790],[-0.06,2.864],[-0.02,3.000],[0,5.153]];

// ---- 37A, f0 = 116.248 MHz ----
const up37A = [[0,1.482],[0.02,1.440],[0.04,1.460],[0.10,1.430],[0.16,1.391],[0.25,1.340],[0.33,1.301],[0.42,1.288],[0.51,1.278],[0.60,1.265],[0.69,1.255],[0.75,1.265],[0.77,1.270],[0.78,1.912],[0.82,1.880],[0.85,1.800],[0.87,1.754],[0.88,2.207],[0.93,2.250],[0.96,2.180],[0.99,2.162],[1.05,2.290],[1.11,2.411],[1.17,2.490],[1.23,2.547],[1.32,2.640],[1.41,2.751],[1.50,2.820],[1.59,2.909],[1.68,3.030],[1.77,3.159],[1.86,3.280],[1.95,3.385],[2.04,3.500],[2.13,3.640],[2.22,3.770],[2.31,3.900],[2.40,4.040],[2.49,4.170],[2.58,4.300],[2.67,4.430],[2.79,4.575],[2.91,4.700],[3.03,4.830],[3.15,4.930],[3.27,5.030],[3.39,5.110],[3.54,5.170],[3.69,5.210],[3.83,5.230]];
const upNeg37A = [[-3.79,3.453],[-3.61,3.400],[-3.43,3.340],[-3.31,3.270],[-3.19,3.182],[-3.10,3.110],[-3.01,3.045],[-2.92,2.960],[-2.83,2.864],[-2.75,2.760],[-2.66,2.638],[-2.58,2.502],[-2.54,2.184],[-2.45,2.094],[-2.42,1.935],[-2.33,1.790],[-2.24,1.641],[-2.12,1.480],[-2.00,1.323],[-1.88,1.180],[-1.76,1.051],[-1.64,0.930],[-1.52,0.825],[-1.43,0.750],[-1.34,0.689],[-1.25,0.655],[-1.16,0.644],[-1.05,0.644]];
const dn37A = [[0,3.227],[0.04,3.200],[0.10,3.220],[0.16,3.249],[0.25,3.308],[0.32,3.320],[0.39,3.340],[0.48,3.360],[0.57,3.385],[0.59,3.408],[0.62,3.370],[0.67,3.363],[0.69,2.909],[0.72,2.800],[0.75,2.728],[0.81,2.650],[0.87,2.592],[0.96,2.570],[1.05,2.570],[1.14,2.575],[1.23,2.590],[1.32,2.630],[1.41,2.683],[1.50,2.755],[1.59,2.842],[1.68,2.960],[1.77,3.091],[1.86,3.200],[1.95,3.317],[2.04,3.450],[2.13,3.589],[2.22,3.725],[2.31,3.861],[2.40,4.000],[2.49,4.133],[2.58,4.270],[2.67,4.405],[2.79,4.550],[2.91,4.677],[3.03,4.800],[3.15,4.904],[3.27,5.000],[3.39,5.085],[3.54,5.150],[3.69,5.198],[3.84,5.212],[3.99,5.221],[4.16,5.232],[4.34,5.244],[4.50,5.255],[4.67,5.266],[4.69,5.312]];
const dnNeg37A = [[-3.79,3.431],[-3.64,3.400],[-3.49,3.363],[-3.40,3.300],[-3.31,3.227],[-3.17,3.110],[-3.04,3.000],[-2.95,2.842],[-2.86,2.760],[-2.78,2.683],[-2.69,2.570],[-2.60,2.456],[-2.48,2.280],[-2.36,2.094],[-2.24,1.900],[-2.12,1.709],[-2.00,1.540],[-1.88,1.369],[-1.76,1.230],[-1.64,1.097],[-1.52,0.995],[-1.41,0.915],[-1.39,0.508],[-1.28,0.475],[-1.16,0.440],[-1.04,0.405],[-0.93,0.372],[-0.85,0.430],[-0.80,0.915],[-0.72,1.000],[-0.62,1.051],[-0.50,1.075],[-0.38,1.097],[-0.26,1.130],[-0.14,1.165],[-0.06,1.210],[-0.02,1.233],[0.01,1.323]];

// second, inner scale bar drawn in panel 7C (data coords)
const innerBar7C = { b: 0.19, b0: 0.01, b1: 0.41, lo: 0.304, hi: 0.475, label: '0.2' };

const BLUE = '#0000ff', GREEN = '#008000', RED = '#ff0000', CYAN = '#00bfbf';
const TAG_RED = 'rgb(255, 51, 17)';
const X_MIN = -3.805, X_MAX = 4.69;

const COL_LEFT = [183, 1437, 2693];
const ROW_TOP = [46, 1057, 2067];
const ROW_H = [939, 938, 937];
const PANEL_W = 1113;
const PAD = { left: 183, right: 14, top: 40, bottom: 150 };
const Y_TITLE_SHIFT = [-8, -67, -19];

// tag box: [offset from left axis, offset from bottom axis, width, height]
const panels = [
  { tag: '3C', freq: '4.993', ymax: 0.35, yTicks: yTicks3C, bar: [0.15, 0.25], barLabel: '0.1', labelOff: 88, labelDy: -4, stepped: true,
    series: [[up3C, BLUE, '↑'], [dn3C, GREEN, '↓']], box: [30, 37, 158, 115] },
  { tag: '3B', freq: '5.505', ymax: 0.14, yTicks: yTicks3B, bar: [0.06, 0.10], barLabel: '0.04', labelOff: 83, labelDy: -24, stepped: true,
    series: [[up3B, BLUE, '↑'], [dn3B, GREEN, '↓']], box: [33, 37, 160, 115] },
  { tag: '5B', freq: '9.152', ymax: 0.18, yTicks: yTicks5B, bar: [0.08, 0.12], barLabel: '0.04', labelOff: 81, labelDy: 0, stepped: true,
    series: [[up5B, BLUE, '↑'], [dn5B, GREEN, '↓']], box: [64, 37, 161, 115] },
  { tag: '7C', freq: '11.729', ymax: 0.6, yTicks: yTicks7C, bar: [0.2, 0.4], barLabel: '0.2', labelOff: 84, labelDy: 0, stepped: true,
    series: [[up7C, BLUE, '↑'], [dn7C, GREEN, '↓']], box: [30, 23, 158, 113], inner: innerBar7C },
  { tag: '5A', freq: '15.733', ymax: 0.7, yTicks: yTicks5A, bar: [0.3, 0.5], barLabel: '0.2', labelOff: 84, labelDy: 0, stepped: false,
    series: [[up5A, BLUE, '↑'], [dn5A, GREEN, '↓']], box: [38, 23, 160, 114] },
  { tag: '11A', freq: '34.611', ymax: 1.6, yTicks: yTicks11A, bar: [0.8, 1.0], barLabel: '0.2', labelOff: 79, labelDy: 0, stepped: false,
    series: [[up11A, BLUE, '↑'], [upNeg11A, GREEN, '↑'], [dn11A, RED, '↓'], [dnNeg11A, CYAN, '↓']], box: [58, 15, 184, 132] },
  { tag: '21A', freq: '66.022', ymax: 3.0, yTicks: yTicks21A, bar: [1.0, 2.0], barLabel: '1', labelOff: 70, labelDy: 0, stepped: false,
    series: [[up21A, BLUE, '↑'], [upNeg21A, GREEN, '↑'], [dn21A, RED, '↓'], [dnNeg21A, CYAN, '↓']], box: [40, 21, 185, 128] },
  { tag: '33A', freq: '103.831', ymax: 6, yTicks: yTicks33A, bar: [3, 4], barLabel: '1', labelOff: 70, labelDy: 0, stepped: false,
    series: [[up33A, BLUE, '↑'], [upNeg33A, GREEN, '↑'], [dn33A, RED, '↓'], [dnNeg33A, CYAN, '↓']], box: [38, 21, 185, 121] },
  { tag: '37A', freq: '116.248', ymax: 6, yTicks: yTicks37A, bar: [3, 4], barLabel: '1', labelOff: 68, labelDy: 0, stepped: false,
    series: [[up37A, BLUE, '↑'], [upNeg37A, GREEN, '↑'], [dn37A, RED, '↓'], [dnNeg37A, CYAN, '↓']], box: [55, 17, 184, 130] }
];

// --- small drawing helpers ---
function seg(ctx, x0, y0, x1, y1) {
  ctx.beginPath(); ctx.moveTo(x0, y0); ctx.lineTo(x1, y1); ctx.stroke();
}
function head(ctx, x, y, dir) { // tip at (x, y); dir -1 points up, +1 points down
  ctx.beginPath();
  ctx.moveTo(x, y);
  ctx.lineTo(x - 4, y - dir * 15);
  ctx.lineTo(x, y - dir * 11);
  ctx.lineTo(x + 4, y - dir * 15);
  ctx.closePath(); ctx.fill();
}
function vbar(ctx, x0, x1, ax, yTop, yBot) {
  ctx.strokeStyle = '#000'; ctx.fillStyle = '#000'; ctx.lineWidth = 1.6;
  seg(ctx, x0, yTop, x1, yTop);
  seg(ctx, x0, yBot, x1, yBot);
  seg(ctx, ax, yTop + 6, ax, yBot - 6);
  head(ctx, ax, yTop, -1);
  head(ctx, ax, yBot, 1);
}
// draws pieces of mixed-font text one after another: [text, font, dy, gapAfter]
function runs(ctx, parts, x, y) {
  parts.forEach(([t, font, dy, gap]) => {
    ctx.font = font;
    ctx.fillText(t, x, y + dy);
    x += ctx.measureText(t).width + gap;
  });
  return x;
}
function runsWidth(ctx, parts) {
  let w = 0;
  parts.forEach(([t, font, dy, gap]) => { ctx.font = font; w += ctx.measureText(t).width + gap; });
  return w;
}

function legendParts(arrow, freq) {
  const dot = freq.indexOf('.');
  return [
    [arrow, '36px "DejaVu Serif"', 0, 15],
    ['f', 'italic 39px "Liberation Serif"', 0, 2],
    ['0', '26px "Liberation Serif"', 8, 12],
    ['=', '36px "DejaVu Serif"', 0, 5],
    [freq.slice(0, dot + 1), '37px "Liberation Serif"', 0, 6],
    [freq.slice(dot + 1), '37px "Liberation Serif"', 0, 2],
    ['MHz', '36px "DejaVu Sans"', 0, 0]
  ];
}

function makePlugin(p, row, col) {
  return {
    id: 'mplLook',
    afterDatasetsDraw(chart) {
      const ctx = chart.ctx, a = chart.chartArea;
      const xs = chart.scales.x, ys = chart.scales.y;
      ctx.save();
      ctx.textAlign = 'left';
      ctx.textBaseline = 'alphabetic';

      // frame and inward ticks on all four sides
      ctx.strokeStyle = '#000';
      ctx.lineWidth = 2;
      ctx.strokeRect(a.left, a.top, a.right - a.left, a.bottom - a.top);
      ctx.lineWidth = 1.5;
      xTicks.forEach(v => {
        const px = xs.getPixelForValue(v);
        seg(ctx, px, a.bottom, px, a.bottom - 9);
        seg(ctx, px, a.top, px, a.top + 9);
      });
      p.yTicks.forEach(v => {
        const py = ys.getPixelForValue(v);
        seg(ctx, a.left, py, a.left + 9, py);
        seg(ctx, a.right, py, a.right - 9, py);
      });

      // scale bar left of the axes
      const yTop = ys.getPixelForValue(p.bar[1]), yBot = ys.getPixelForValue(p.bar[0]);
      vbar(ctx, a.left - 53, a.left, a.left - 31, yTop, yBot);
      ctx.fillStyle = '#000';
      ctx.font = '45px "DejaVu Sans"';
      ctx.textAlign = 'center';
      ctx.fillText(p.barLabel, a.left - p.labelOff, (yTop + yBot) / 2 + 16 + p.labelDy);

      if (p.inner) {
        const q = p.inner;
        const iTop = ys.getPixelForValue(q.hi), iBot = ys.getPixelForValue(q.lo);
        const ax = xs.getPixelForValue(q.b);
        vbar(ctx, xs.getPixelForValue(q.b0), xs.getPixelForValue(q.b1), ax, iTop, iBot);
        ctx.textAlign = 'right';
        ctx.font = '45px "DejaVu Sans"';
        ctx.fillText(q.label, ax - 19, (iTop + iBot) / 2 + 16);
      }

      // x tick labels and title on the bottom row
      if (row === 2) {
        ctx.textAlign = 'center';
        ctx.font = '42px "DejaVu Sans"';
        xTicks.forEach((v, i) => {
          if (xTickLabels[i]) ctx.fillText(xTickLabels[i], xs.getPixelForValue(v), a.bottom + 48);
        });
        ctx.textAlign = 'left';
        runs(ctx, [
          ['B', 'italic 56px "Liberation Serif"', 0, 0],
          ['n', 'italic 38px "Liberation Serif"', 10, 10],
          ['(T)', '46px "DejaVu Sans"', 0, 0]
        ], a.left + 418, a.bottom + 106);
      }

      // y title on the left column
      if (col === 0) {
        const parts = [
          ['Δ', '50px "Liberation Serif"', 0, 2],
          ['f', 'italic 50px "Liberation Serif"', 0, 22],
          ['(Hz)', '44px "DejaVu Sans"', 0, 0]
        ];
        ctx.save();
        ctx.translate(37, (a.top + a.bottom) / 2 + Y_TITLE_SHIFT[row]);
        ctx.rotate(-Math.PI / 2);
        ctx.textAlign = 'left';
        runs(ctx, parts, -runsWidth(ctx, parts) / 2, 0);
        ctx.restore();
      }

      // legend (frame, no fill)
      const lx = a.left + 17, ly = a.top + 19;
      let maxX = 0;
      ctx.textAlign = 'left';
      p.series.forEach(([pts, color, arrow], i) => {
        const cy = ly + 32 + i * 56;
        ctx.strokeStyle = color;
        ctx.lineWidth = 6;
        seg(ctx, lx + 23, cy, lx + 82, cy);
        ctx.fillStyle = '#000';
        maxX = Math.max(maxX, runs(ctx, legendParts(arrow, p.freq), lx + 125, cy + 12));
      });
      ctx.strokeStyle = '#000';
      ctx.lineWidth = 1.7;
      ctx.strokeRect(lx, ly, maxX + 18 - lx, 14 + p.series.length * 56);

      // sample tag
      const [dx, dy, bw, bh] = p.box;
      const bx = a.left + dx, by = a.bottom - dy - bh;
      ctx.strokeStyle = TAG_RED;
      ctx.lineWidth = 6;
      ctx.strokeRect(bx, by, bw, bh);
      ctx.fillStyle = TAG_RED;
      ctx.font = '92px "Open Sans"';
      ctx.textAlign = 'center';
      ctx.fillText(p.tag, bx + bw / 2, by + bh / 2 + 33);

      ctx.restore();
    }
  };
}

const wrap = document.getElementById('wrap');
panels.forEach((p, i) => {
  const row = Math.floor(i / 3), col = i % 3;
  const canvas = document.createElement('canvas');
  const w = PAD.left + PANEL_W + PAD.right;
  const h = PAD.top + ROW_H[row] + PAD.bottom;
  canvas.width = w; canvas.height = h;
  canvas.style.width = w + 'px'; canvas.style.height = h + 'px';
  canvas.style.left = (COL_LEFT[col] - PAD.left) + 'px';
  canvas.style.top = (ROW_TOP[row] - PAD.top) + 'px';
  wrap.appendChild(canvas);

  const n = p.series.length;
  new Chart(canvas, {
    type: 'line',
    data: {
      datasets: p.series.map(([pts, color, arrow], k) => ({
        label: arrow + ' f0 = ' + p.freq + 'MHz',
        data: pts.map(([b, f]) => ({ x: b, y: f })),
        borderColor: color,
        backgroundColor: color,
        borderWidth: 6,
        pointRadius: 0,
        tension: 0,
        fill: false,
        stepped: p.stepped ? 'middle' : false,
        borderJoinStyle: 'round',
        order: n - k
      }))
    },
    options: {
      responsive: false,
      animation: false,
      devicePixelRatio: 1,
      events: [],
      layout: { padding: PAD },
      plugins: { legend: { display: false }, tooltip: { enabled: false } },
      scales: {
        x: { type: 'linear', min: X_MIN, max: X_MAX, display: false },
        y: { type: 'linear', min: 0, max: p.ymax, display: false }
      }
    },
    plugins: [makePlugin(p, row, col)]
  });
});
</script>
</body>
</html>
